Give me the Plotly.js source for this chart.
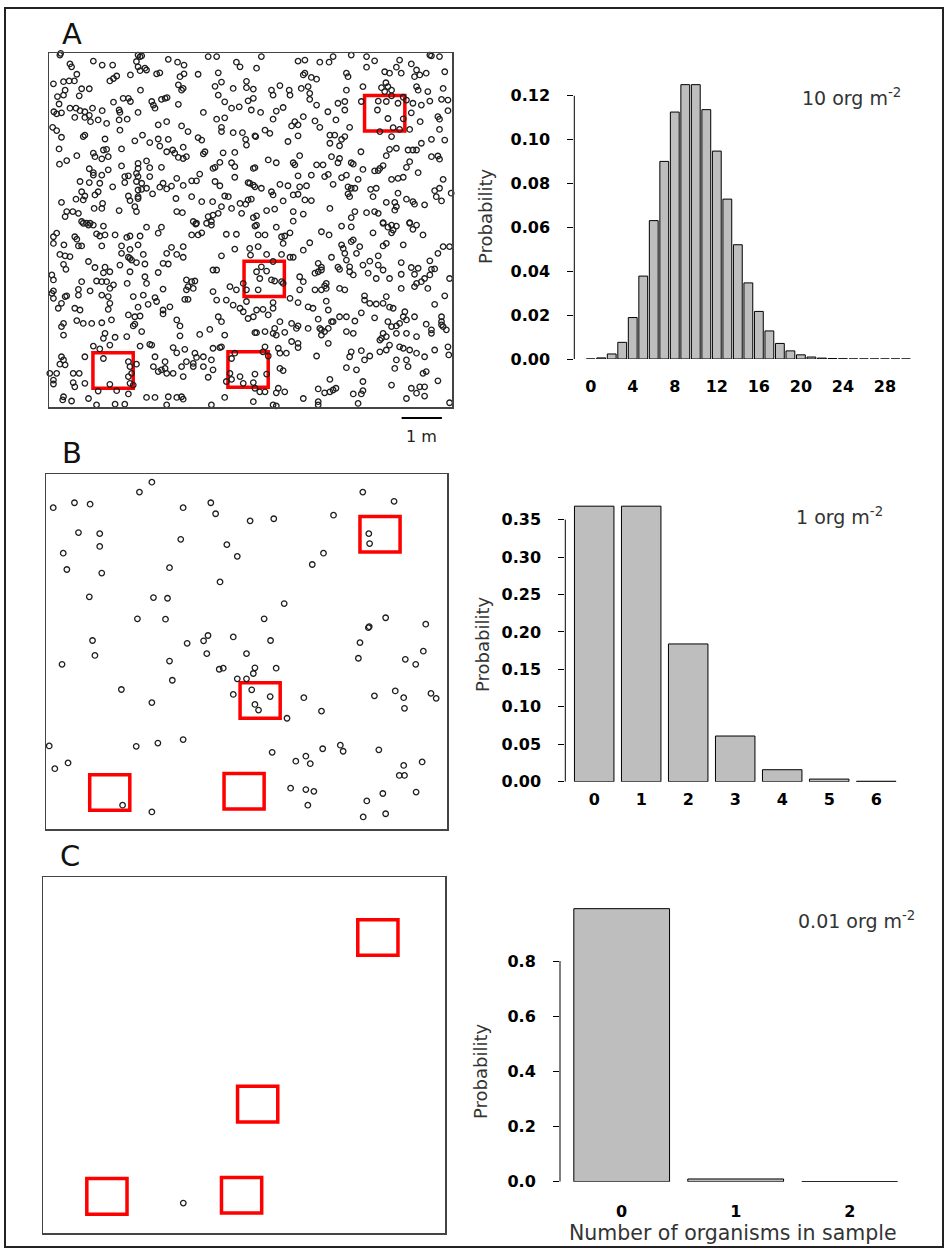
<!DOCTYPE html>
<html><head><meta charset="utf-8">
<script src="https://cdn.plot.ly/plotly-3.0.1.min.js"></script>
<style>html,body{margin:0;padding:0;background:#fff;}#chart{width:948px;height:1251px;}</style>
</head><body><div id="chart"></div>
<script>
// ---------------- DATA ----------------
// Organism positions (m) in the 10 m x 10 m field, panel A (10 org m^-2), by quadrant
const pointsA_NW = [[0.27,9.94],[0.29,9.99],[2.21,9.94],[2.26,9.90],[2.30,9.92],[3.95,9.90],[4.16,9.90],[0.52,9.69],[1.10,9.77],[1.32,9.66],[1.58,9.66],[2.96,9.82],[3.19,9.74],[3.35,9.66],[4.65,9.74],[4.74,9.61],[2.17,9.76],[2.21,9.61],[0.56,9.61],[0.69,9.40],[2.26,9.50],[2.42,9.52],[2.38,9.57],[2.67,9.41],[2.75,9.44],[3.35,9.41],[3.70,9.40],[4.20,9.44],[1.68,9.35],[2.02,9.38],[0.11,9.13],[0.36,9.19],[0.50,9.21],[0.63,9.21],[1.51,9.21],[1.60,9.28],[3.25,9.33],[3.21,9.10],[4.12,9.06],[4.28,9.18],[4.90,9.20],[0.81,8.99],[1.00,8.99],[2.27,8.95],[3.29,8.95],[3.33,9.00],[4.57,9.00],[4.90,9.02],[5.07,8.98],[0.40,8.95],[0.21,8.77],[0.36,8.81],[0.75,8.79],[1.84,8.72],[1.97,8.72],[2.02,8.63],[2.88,8.72],[2.93,8.74],[4.20,8.81],[4.36,8.62],[4.94,8.65],[5.07,8.72],[1.60,8.61],[2.55,8.63],[2.79,8.69],[0.25,8.56],[2.59,8.53],[2.63,8.44],[3.21,8.55],[4.53,8.44],[4.72,8.48],[5.02,8.39],[0.12,8.34],[0.19,8.28],[0.31,8.31],[0.52,8.44],[0.67,8.44],[0.77,8.37],[0.89,8.34],[1.00,8.24],[1.08,8.44],[1.32,8.37],[1.76,8.32],[1.74,8.39],[2.21,8.32],[0.64,8.18],[0.89,8.18],[1.03,8.06],[3.83,8.32],[1.43,8.01],[1.74,8.11],[1.94,8.13],[2.71,7.97],[2.92,8.06],[4.16,8.13],[4.36,8.17],[1.22,8.11],[0.09,7.90],[0.19,7.81],[1.76,7.82],[3.29,7.94],[3.45,7.78],[4.28,7.90],[4.28,7.78],[4.57,7.75],[4.80,7.75],[5.11,7.66],[0.31,7.62],[0.85,7.64],[0.89,7.68],[1.39,7.57],[2.13,7.52],[2.32,7.68],[2.50,7.47],[2.71,7.57],[2.96,7.56],[3.70,7.61],[3.79,7.54],[4.88,7.56],[4.90,7.40],[0.25,7.29],[1.10,7.17],[1.35,7.26],[1.43,7.28],[1.80,7.29],[2.75,7.37],[2.92,7.21],[3.07,7.26],[3.12,7.17],[3.33,7.34],[3.83,7.15],[3.87,7.21],[4.32,7.18],[4.61,7.19],[0.69,7.10],[1.14,7.07],[1.31,7.01],[1.47,7.07],[3.21,7.05],[3.41,7.07],[3.33,7.02],[4.53,6.90],[4.61,6.79],[0.26,6.86],[0.44,6.96],[1.80,6.81],[2.21,6.88],[2.42,6.95],[2.79,6.77],[2.21,6.74],[2.50,6.76],[4.07,6.74],[4.12,6.77],[4.24,6.91],[5.07,6.74],[1.00,6.73],[1.10,6.55],[1.31,6.55],[1.47,6.70],[1.10,6.62],[1.88,6.51],[1.97,6.53],[2.17,6.60],[2.21,6.51],[2.50,6.51],[3.17,6.46],[3.74,6.58],[4.61,6.49],[4.98,6.32],[5.07,6.27],[0.77,6.37],[1.00,6.34],[1.26,6.32],[1.58,6.22],[1.88,6.34],[2.17,6.37],[2.30,6.32],[2.83,6.32],[3.04,6.24],[3.33,6.26],[3.54,6.39],[3.66,6.39],[4.12,6.37],[4.24,6.25],[4.94,6.34],[0.81,6.08],[1.22,6.08],[0.89,5.96],[1.14,5.99],[2.21,6.13],[2.30,6.15],[2.42,6.18],[2.75,6.21],[2.92,6.16],[2.21,5.94],[1.97,5.96],[2.57,6.02],[4.36,5.96],[4.45,5.94],[5.02,5.87],[0.31,5.78],[0.67,5.87],[0.85,5.85],[1.33,5.75],[2.01,5.83],[2.21,5.89],[3.15,5.89],[3.54,5.94],[3.79,5.80],[4.06,5.80],[4.28,5.66],[4.53,5.61],[4.74,5.75],[4.88,5.73],[4.94,5.85],[0.44,5.52],[0.40,5.38],[0.59,5.52],[0.73,5.47],[1.12,5.61],[1.31,5.61],[1.74,5.55],[2.13,5.66],[2.17,5.52],[3.17,5.52],[3.31,5.49],[3.95,5.38],[4.07,5.42],[4.20,5.47],[4.78,5.47],[0.81,5.24],[0.93,5.19],[1.02,5.19],[3.58,5.24],[3.64,5.17],[3.91,5.19],[4.03,5.24],[5.07,5.35]];
const pointsA_NE = [[5.27,9.90],[6.18,9.77],[6.35,9.80],[6.72,9.74],[6.95,9.74],[7.05,9.90],[7.50,9.94],[7.88,9.90],[8.08,9.78],[8.70,9.80],[8.99,9.69],[9.45,9.94],[9.49,9.92],[9.69,9.90],[5.15,9.57],[7.38,9.43],[7.42,9.33],[7.88,9.60],[8.33,9.47],[8.45,9.43],[8.62,9.60],[8.74,9.43],[9.12,9.52],[9.20,9.38],[9.36,9.43],[9.07,9.33],[9.82,9.47],[6.31,9.38],[6.51,9.31],[6.64,9.26],[6.35,9.43],[8.36,9.16],[8.41,9.05],[7.79,9.05],[8.25,9.02],[8.33,8.91],[8.50,8.95],[9.12,9.05],[9.16,8.95],[9.40,8.91],[9.78,9.00],[5.52,8.95],[5.73,9.08],[5.96,8.95],[6.26,9.00],[6.43,9.05],[7.38,8.95],[5.56,8.81],[5.98,8.81],[6.47,8.86],[6.47,8.69],[8.50,8.79],[8.79,8.75],[8.87,8.67],[7.75,8.63],[8.17,8.64],[8.37,8.63],[8.66,8.58],[9.03,8.58],[9.24,8.53],[9.45,8.64],[9.74,8.69],[9.90,8.67],[7.17,8.58],[7.34,8.63],[6.64,8.53],[5.25,8.32],[5.64,8.36],[5.81,8.46],[7.34,8.39],[8.15,8.39],[8.99,8.31],[9.65,8.20],[9.90,8.37],[6.92,8.34],[5.56,8.13],[6.31,8.20],[6.10,8.06],[6.02,7.94],[6.18,7.97],[6.60,8.08],[6.72,7.90],[7.12,8.11],[7.46,7.90],[8.41,8.15],[8.79,8.14],[9.21,8.06],[9.69,8.13],[5.36,7.82],[5.48,7.73],[8.54,7.89],[8.70,7.84],[8.95,7.84],[8.21,7.78],[9.69,7.84],[5.13,7.64],[6.18,7.66],[6.97,7.68],[7.09,7.68],[7.34,7.64],[7.26,7.56],[5.93,7.50],[6.97,7.45],[7.21,7.38],[8.50,7.64],[9.49,7.56],[9.82,7.54],[9.24,7.45],[9.03,7.26],[8.91,7.26],[9.12,7.26],[7.74,7.21],[8.45,7.28],[8.62,7.31],[8.37,7.10],[6.22,7.10],[7.01,7.07],[7.21,7.02],[5.44,6.98],[5.64,6.90],[6.06,6.90],[6.10,6.84],[7.50,6.90],[7.55,6.86],[7.17,6.90],[9.49,7.07],[9.65,7.09],[9.69,7.00],[8.95,6.93],[8.87,6.77],[5.11,6.76],[6.64,6.84],[6.80,6.84],[7.79,6.71],[8.08,6.67],[8.17,6.68],[8.29,6.82],[8.21,6.74],[6.18,6.53],[6.51,6.55],[6.84,6.51],[6.93,6.57],[7.26,6.48],[7.38,6.55],[7.67,6.43],[8.50,6.43],[8.66,6.46],[8.79,6.49],[9.16,6.62],[9.78,6.43],[5.11,6.22],[5.27,6.18],[5.52,6.08],[5.73,6.29],[5.93,6.25],[6.22,6.22],[6.39,6.25],[7.05,6.29],[7.42,6.22],[7.50,6.18],[7.59,6.18],[7.98,6.15],[8.12,6.18],[9.57,6.11],[9.69,6.18],[5.56,5.99],[6.06,5.99],[6.18,6.01],[7.42,6.02],[7.46,5.94],[8.04,5.94],[8.37,5.78],[8.58,5.78],[8.66,6.04],[8.87,5.87],[9.03,5.80],[9.07,5.73],[9.32,5.71],[9.61,5.94],[9.74,5.82],[9.98,6.04],[5.81,5.82],[6.35,5.85],[6.51,5.83],[5.40,5.55],[5.60,5.59],[6.06,5.52],[6.31,5.45],[6.97,5.61],[7.59,5.52],[7.88,5.49],[8.08,5.52],[8.17,5.47],[8.62,5.66],[8.58,5.56],[5.15,5.40],[6.06,5.25],[7.50,5.35],[8.29,5.21],[8.50,5.14],[8.95,5.21],[9.12,5.14],[5.15,5.14]];
const pointsA_SW = [[0.85,5.19],[0.98,5.14],[1.10,5.14],[1.35,5.11],[2.42,5.08],[2.79,5.08],[3.66,5.19],[4.03,5.14],[0.11,4.81],[0.19,4.91],[0.64,4.81],[0.69,4.74],[1.18,4.89],[1.26,4.83],[1.39,4.86],[1.64,4.86],[1.93,4.79],[2.01,4.83],[2.26,4.83],[2.71,4.91],[3.54,4.86],[3.70,4.86],[3.79,4.92],[4.40,4.88],[4.65,4.88],[0.11,4.62],[0.37,4.58],[0.73,4.55],[0.81,4.55],[1.31,4.55],[1.80,4.55],[2.01,4.45],[2.21,4.58],[3.04,4.51],[3.33,4.53],[4.61,4.46],[4.98,4.48],[0.27,4.31],[0.40,4.27],[0.52,4.25],[1.80,4.34],[1.97,4.23],[2.01,4.20],[2.34,4.31],[2.92,4.34],[3.17,4.31],[3.33,4.23],[4.28,4.27],[5.00,4.29],[0.36,4.03],[0.98,4.11],[1.76,4.01],[2.05,4.15],[2.17,4.08],[2.38,4.04],[2.83,4.06],[2.96,4.04],[4.07,3.87],[4.16,3.87],[0.42,3.89],[1.14,3.94],[1.39,3.95],[1.35,3.79],[1.51,3.82],[2.01,3.82],[2.71,3.80],[0.07,3.73],[0.11,3.59],[0.81,3.54],[1.18,3.56],[1.31,3.54],[1.43,3.54],[1.60,3.45],[1.94,3.49],[2.38,3.68],[2.42,3.49],[3.41,3.59],[3.54,3.54],[3.62,3.56],[4.82,3.49],[0.11,3.28],[0.73,3.32],[1.02,3.28],[1.51,3.35],[2.83,3.33],[3.45,3.40],[3.41,3.31],[3.58,3.35],[4.49,3.40],[4.65,3.31],[4.90,3.31],[0.07,3.21],[0.11,3.07],[0.40,3.12],[0.44,3.14],[0.73,3.16],[1.31,3.16],[1.47,3.12],[2.09,3.12],[2.34,3.16],[2.63,3.09],[2.67,2.98],[3.37,3.04],[3.45,3.04],[4.07,3.26],[4.16,3.02],[4.40,3.02],[4.90,2.98],[0.31,2.93],[0.64,2.79],[0.77,2.74],[0.23,2.79],[1.51,2.93],[1.47,2.76],[2.21,2.82],[2.46,2.90],[2.83,2.74],[3.00,2.83],[4.57,2.88],[4.74,2.79],[4.82,2.69],[5.07,2.55],[4.94,2.50],[0.36,2.36],[0.31,2.27],[0.69,2.44],[0.85,2.36],[1.06,2.36],[1.31,2.38],[1.55,2.46],[1.97,2.60],[2.13,2.55],[2.26,2.57],[2.09,2.29],[2.13,2.34],[2.83,2.63],[3.17,2.46],[3.25,2.29],[4.28,2.41],[4.20,2.55],[0.36,2.03],[1.39,2.08],[1.35,1.94],[1.64,1.97],[1.93,1.99],[2.30,2.13],[3.25,2.01],[3.74,2.05],[3.99,2.19],[4.36,2.03],[5.11,2.10],[1.10,1.72],[1.26,1.64],[1.51,1.75],[2.26,1.72],[2.50,1.77],[2.55,1.75],[3.08,1.68],[3.37,1.63],[4.07,1.66],[4.24,1.68],[4.28,1.70],[0.31,1.42],[0.36,1.33],[0.89,1.42],[1.35,1.37],[1.97,1.28],[2.17,1.21],[2.63,1.42],[2.88,1.28],[3.17,1.53],[3.62,1.52],[3.66,1.40],[3.83,1.42],[3.58,1.23],[4.03,1.33],[4.61,1.52],[0.27,1.21],[0.40,1.19],[0.02,0.95],[0.19,0.95],[0.60,0.95],[0.75,0.95],[2.01,1.14],[2.05,0.95],[2.59,1.14],[2.71,1.00],[2.79,1.05],[2.92,0.95],[2.88,1.09],[3.08,0.95],[3.29,1.14],[3.41,1.28],[3.58,1.14],[3.83,1.14],[4.07,1.05],[4.49,0.95],[4.53,1.37],[0.11,0.76],[0.11,0.65],[0.60,0.69],[0.64,0.57],[0.89,0.67],[1.51,0.64],[1.97,0.86],[2.01,0.67],[2.09,0.62],[3.33,0.86],[3.95,0.84],[4.40,0.72],[4.53,0.78],[4.74,0.86],[4.82,0.67],[5.07,0.69],[0.36,0.29],[0.34,0.20],[0.56,0.17],[0.98,0.24],[1.22,0.45],[1.68,0.46],[1.97,0.37],[2.42,0.27],[2.63,0.27],[2.96,0.29],[2.92,0.06],[3.17,0.27],[3.29,0.29],[4.03,0.06],[4.36,0.27],[5.07,0.15],[3.33,0.22],[1.18,0.06],[1.64,0.08],[1.88,0.08]];
const pointsA_SE = [[5.64,5.08],[7.26,5.11],[7.50,5.09],[8.29,5.19],[8.41,5.08],[8.54,5.00],[8.62,5.11],[8.95,5.19],[9.03,5.02],[5.11,5.11],[5.19,4.86],[5.36,4.86],[5.77,4.81],[5.85,4.83],[5.98,4.92],[6.76,4.95],[6.95,4.86],[8.04,4.92],[8.50,4.92],[9.28,4.86],[8.37,4.62],[8.29,4.55],[8.79,4.58],[9.78,4.53],[9.94,4.53],[5.81,4.62],[5.19,4.53],[6.47,4.64],[6.31,4.43],[7.26,4.58],[7.30,4.48],[7.50,4.67],[7.55,4.72],[7.71,4.53],[7.34,4.34],[7.63,4.34],[8.17,4.27],[9.65,4.34],[5.77,4.31],[5.98,4.23],[6.06,4.23],[5.40,4.31],[5.56,4.11],[5.40,3.84],[5.27,3.96],[6.68,4.06],[6.76,3.95],[7.01,4.23],[7.17,3.95],[7.21,3.89],[7.38,4.15],[7.46,3.96],[7.79,4.01],[7.96,4.12],[8.17,4.01],[8.29,3.87],[8.74,4.08],[8.99,3.94],[9.16,3.92],[9.45,4.13],[9.49,3.89],[9.57,3.90],[5.15,3.82],[5.23,3.63],[5.52,3.59],[5.60,3.56],[5.77,3.54],[6.22,3.68],[6.31,3.54],[6.60,3.78],[6.68,3.82],[6.76,3.87],[7.46,3.82],[7.55,3.73],[7.92,3.78],[8.12,3.63],[8.45,3.63],[8.74,3.75],[9.07,3.75],[9.12,3.49],[9.24,3.54],[9.32,3.63],[9.45,3.73],[9.94,3.63],[6.88,3.49],[6.84,3.42],[6.22,3.31],[5.19,3.31],[5.81,3.49],[6.60,3.31],[6.76,3.31],[6.88,3.35],[7.21,3.35],[7.34,3.31],[8.74,3.35],[9.07,3.40],[9.40,3.35],[9.82,3.14],[5.98,3.07],[7.83,3.14],[7.83,3.02],[7.96,2.93],[8.12,2.91],[8.37,3.12],[8.29,2.93],[5.15,2.74],[5.31,2.76],[5.56,2.95],[5.56,2.79],[6.18,2.95],[6.43,2.83],[6.55,2.79],[6.88,2.99],[6.93,2.74],[7.75,2.66],[8.08,2.52],[8.45,2.82],[8.54,2.79],[8.83,2.69],[9.57,2.90],[5.44,2.60],[5.73,2.41],[6.02,2.36],[6.18,2.29],[6.68,2.48],[7.05,2.41],[7.21,2.55],[7.38,2.55],[7.59,2.43],[8.41,2.41],[8.50,2.27],[8.62,2.29],[8.70,2.36],[8.79,2.55],[8.87,2.46],[9.07,2.55],[9.36,2.34],[9.74,2.55],[9.74,2.41],[9.74,2.32],[9.78,2.27],[9.86,2.18],[9.49,2.18],[5.15,2.10],[5.36,2.13],[5.60,2.22],[5.56,2.08],[5.64,2.03],[5.85,2.11],[6.14,2.22],[6.43,2.22],[6.72,2.22],[6.76,2.18],[6.84,2.13],[6.93,2.22],[7.01,2.41],[6.76,2.03],[6.93,1.80],[7.38,2.13],[7.55,2.08],[8.29,2.08],[8.25,1.94],[8.37,1.99],[8.62,2.08],[8.87,2.08],[9.12,1.99],[9.49,2.08],[5.36,1.70],[5.31,1.56],[5.69,1.66],[5.73,1.52],[5.89,1.52],[6.02,1.85],[6.18,1.80],[6.18,1.68],[7.50,1.56],[7.75,1.59],[7.96,1.44],[8.21,1.56],[8.21,1.89],[8.45,1.75],[8.37,1.61],[8.70,1.70],[8.79,1.66],[8.95,1.61],[9.12,1.52],[9.32,1.42],[9.57,1.61],[9.90,1.70],[9.92,1.47],[5.44,1.44],[6.64,1.44],[7.46,1.42],[7.83,1.33],[8.62,1.33],[8.87,1.33],[8.91,1.14],[8.58,1.09],[9.28,0.95],[9.36,1.00],[7.38,1.11],[7.63,1.05],[5.73,1.09],[5.81,1.03],[5.11,0.93],[5.40,0.93],[6.97,0.78],[7.79,0.72],[9.65,0.74],[8.50,0.62],[5.11,0.53],[5.23,0.43],[5.36,0.43],[5.64,0.40],[5.69,0.53],[5.85,0.43],[6.68,0.51],[6.84,0.40],[6.97,0.43],[7.05,0.48],[7.12,0.53],[7.55,0.37],[7.75,0.37],[7.79,0.46],[8.87,0.24],[8.99,0.53],[9.12,0.39],[9.20,0.57],[9.32,0.57],[9.32,0.31],[5.56,0.06],[5.64,0.03],[6.31,0.24],[6.68,0.15],[6.68,0.06],[7.67,0.10],[9.94,0.12]];
// Panel B (1 org m^-2)
const pointsB = [[2.64,9.77],[2.33,9.49],[0.18,9.05],[0.71,9.19],[1.10,9.15],[3.42,9.05],[4.11,9.19],[4.23,8.88],[5.09,8.68],[5.68,8.74],[7.90,9.49],[8.68,9.23],[7.17,8.84],[0.81,8.35],[1.34,8.32],[1.34,7.96],[0.43,7.77],[3.36,8.16],[4.51,8.01],[4.77,7.68],[6.92,7.77],[6.64,7.45],[8.05,8.32],[8.07,8.04],[0.52,7.31],[1.39,7.21],[3.08,7.36],[4.34,6.96],[1.08,6.54],[2.68,6.52],[3.03,6.50],[5.94,6.35],[2.28,5.92],[2.98,5.91],[5.44,5.92],[8.47,5.95],[8.04,5.67],[8.06,5.70],[9.47,5.77],[1.16,5.31],[3.52,5.23],[3.93,5.30],[4.04,5.45],[4.67,5.41],[5.60,5.31],[7.83,5.25],[1.22,4.89],[4.01,4.94],[5.00,4.94],[9.41,5.01],[0.40,4.64],[3.08,4.73],[4.32,4.50],[4.42,4.53],[5.21,4.54],[5.74,4.53],[7.79,4.81],[8.96,4.78],[9.22,4.64],[5.17,4.38],[3.15,4.19],[4.77,4.23],[5.00,4.23],[1.88,3.93],[4.67,3.79],[5.13,3.92],[5.59,3.73],[5.21,3.51],[5.30,3.35],[6.01,3.12],[6.43,3.70],[6.87,3.32],[8.19,3.75],[8.71,3.89],[8.92,3.70],[8.94,3.40],[9.60,3.82],[9.73,3.68],[2.64,3.56],[0.08,2.34],[2.25,2.33],[2.79,2.42],[3.42,2.52],[5.64,2.16],[6.23,1.91],[6.48,2.05],[6.59,1.84],[6.90,2.26],[7.34,2.36],[7.41,2.19],[8.30,2.23],[8.92,1.79],[9.38,1.89],[0.22,1.70],[0.55,1.86],[8.81,1.51],[8.94,1.51],[6.10,1.15],[6.48,1.11],[6.68,1.06],[8.40,1.00],[9.23,1.04],[8.00,0.79],[6.53,0.67],[1.91,0.67],[2.64,0.48],[7.91,0.34],[8.47,0.43]];
// Panel C (0.01 org m^-2)
const pointsC = [[3.49,0.84]];
// Sampling quadrats (lower-left corner, m) and their side length (m)
const quadratX0 = [7.83, 4.84, 1.09, 4.44];
const quadratY0 = [7.80, 3.12, 0.53, 0.56];
const quadratSide = 1;
const scaleBarStart = 8.75, scaleBarLength = 1;   // m

// Poisson probabilities
const countsA = [0,1,2,3,4,5,6,7,8,9,10,11,12,13,14,15,16,17,18,19,20,21,22,23,24,25,26,27,28,29,30];
const probA  = [0.0000,0.0005,0.0023,0.0076,0.0189,0.0378,0.0631,0.0901,0.1126,0.1251,0.1251,0.1137,0.0948,0.0729,0.0521,0.0347,0.0217,0.0128,0.0071,0.0037,0.0019,0.0009,0.0004,0.0002,0.0001,0,0,0,0,0,0];
const countsB = [0,1,2,3,4,5,6];
const probB  = [0.368,0.368,0.184,0.061,0.016,0.0035,0.0006];
const countsC = [0,1,2];
const probC  = [0.990,0.0099,0.0000];

const xTicksA = [0,4,8,12,16,20,24,28];
const yTicksA = [0,0.02,0.04,0.06,0.08,0.10,0.12];
const yTicksB = [0,0.05,0.10,0.15,0.20,0.25,0.30,0.35];
const yTicksC = [0,0.2,0.4,0.6,0.8];
const densityLabels = ['10 org m<sup>-2</sup>','1 org m<sup>-2</sup>','0.01 org m<sup>-2</sup>'];
const panelLetters = ['A','B','C'];
const yTitle = 'Probability';
const xTitle = 'Number of organisms in sample';

// ---------------- LAYOUT ----------------
const W = 948, H = 1251;
const fx = p => p / W, fy = p => 1 - p / H;
const FONT = 'DejaVu Sans';
const tickFont = {family: FONT, size: 16, color: '#000', weight: 'bold'};

const allA = pointsA_NW.concat(pointsA_NE, pointsA_SW, pointsA_SE);
const field = (pts, xa, ya) => ({
  type: 'scatter', mode: 'markers', x: pts.map(p => p[0]), y: pts.map(p => p[1]),
  xaxis: xa, yaxis: ya, hoverinfo: 'skip', cliponaxis: false,
  marker: {symbol: 'circle-open', size: 5.5, color: '#1e1e1e', line: {width: 1.3}}
});
const bars = (x, y, xa, ya) => ({
  type: 'bar', x: x, y: y, xaxis: xa, yaxis: ya, hoverinfo: 'skip',
  marker: {color: '#bebebe', line: {color: '#000', width: 1}}
});

const data = [
  field(allA, 'x', 'y'),
  bars(countsA, probA, 'x2', 'y2'),
  field(pointsB, 'x3', 'y3'),
  bars(countsB, probB, 'x4', 'y4'),
  field(pointsC, 'x5', 'y5'),
  bars(countsC, probC, 'x6', 'y6')
];

const fieldAx = (d, anchor) => ({domain: d, range: [0, 10], anchor: anchor, showline: true, mirror: true,
  linecolor: '#444', linewidth: 1.5, showticklabels: false, ticks: '', showgrid: false, zeroline: false, fixedrange: true});
const histX = (d, r, tv, anchor, so) => ({domain: d, range: r, anchor: anchor, tickmode: 'array', tickvals: tv,
  ticktext: tv.map(String), ticks: '', showline: false, showgrid: false, zeroline: false, tickfont: tickFont,
  ticklabelstandoff: so});
const histY = (d, r, tv, dec, anchor) => ({domain: d, range: r, anchor: anchor, tickmode: 'array', tickvals: tv,
  ticktext: tv.map(v => v.toFixed(dec)), ticks: 'outside', ticklen: 6, tickwidth: 1, tickcolor: '#000',
  showline: false, showgrid: false, zeroline: false, tickfont: tickFont, ticklabelstandoff: 14});

const layout = {
  width: W, height: H, margin: {l: 0, r: 0, t: 0, b: 0}, showlegend: false,
  paper_bgcolor: '#fff', plot_bgcolor: 'rgba(0,0,0,0)', bargap: 0.16,
  font: {family: FONT, color: '#000'},
  xaxis:  fieldAx([fx(49), fx(452)], 'y'),
  yaxis:  fieldAx([fy(407), fy(53)], 'x'),
  xaxis2: histX([fx(574.3), fx(916.5)], [-1.56, 31], xTicksA, 'y2', 16),
  yaxis2: histY([fy(359), fy(73.9)], [0, 0.13], yTicksA, 2, 'x2'),
  xaxis3: fieldAx([fx(46), fx(447)], 'y3'),
  yaxis3: fieldAx([fy(829), fy(474)], 'x3'),
  xaxis4: histX([fx(565.3), fx(899.7)], [-0.615, 6.5], countsB, 'y4', 6),
  yaxis4: histY([fy(781.7), fy(497.2)], [0, 0.38], yTicksB, 2, 'x4'),
  xaxis5: fieldAx([fx(43), fx(445)], 'y5'),
  yaxis5: fieldAx([fy(1233), fy(877)], 'x5'),
  xaxis6: histX([fx(560), fx(906.7)], [-0.541, 2.5], countsC, 'y6', 18),
  yaxis6: histY([fy(1181.7), fy(905.9)], [0, 1.0], yTicksC, 1, 'x6'),
  shapes: [], annotations: []
};

// outer frame
layout.shapes.push({type: 'rect', xref: 'paper', yref: 'paper', x0: fx(5), x1: fx(943), y0: fy(1247), y1: fy(8),
  line: {color: '#222', width: 2}});
// y-axis lines spanning first to last tick (R style)
[['x2','y2',yTicksA],['x4','y4',yTicksB],['x6','y6',yTicksC]].forEach(([xa, ya, tv]) => {
  layout.shapes.push({type: 'line', xref: xa + ' domain', yref: ya, x0: 0, x1: 0, y0: tv[0], y1: tv[tv.length - 1],
    line: {color: '#000', width: 1}});
});
// red sampling quadrats in each field
[['x','y'],['x3','y3'],['x5','y5']].forEach(([xa, ya]) => {
  quadratX0.forEach((x0, i) => {
    layout.shapes.push({type: 'rect', xref: xa, yref: ya, layer: 'below', x0: x0, x1: x0 + quadratSide,
      y0: quadratY0[i], y1: quadratY0[i] + quadratSide, line: {color: '#ff0000', width: 3.5}});
  });
});
// scale bar
layout.shapes.push({type: 'line', xref: 'x', yref: 'paper', x0: scaleBarStart, x1: scaleBarStart + scaleBarLength,
  y0: fy(418), y1: fy(418), line: {color: '#000', width: 2}});

const ann = (text, x, y, size, color, extra) => Object.assign({text: text, x: x, y: y, xref: 'paper', yref: 'paper',
  showarrow: false, font: {family: FONT, size: size, color: color}, xanchor: 'center', yanchor: 'middle'}, extra || {});
layout.annotations.push(
  ann(panelLetters[0], fx(72), fy(34), 29, '#111'),
  ann(panelLetters[1], fx(72), fy(453), 29, '#111'),
  ann(panelLetters[2], fx(70), fy(856), 29, '#111'),
  ann(yTitle, fx(485), fy(217), 18, '#333', {textangle: -90}),
  ann(yTitle, fx(482), fy(645), 18, '#333', {textangle: -90}),
  ann(yTitle, fx(480), fy(1072), 18, '#333', {textangle: -90}),
  ann(densityLabels[0], fx(903), fy(97), 19, '#333', {xanchor: 'right'}),
  ann(densityLabels[1], fx(885), fy(516), 19, '#333', {xanchor: 'right'}),
  ann(densityLabels[2], fx(917), fy(920), 19, '#333', {xanchor: 'right'}),
  ann(xTitle, fx(733), fy(1233), 20.5, '#333'),
  {text: '1 m', x: scaleBarStart + scaleBarLength / 2, xref: 'x', y: fy(437), yref: 'paper', showarrow: false,
   font: {family: FONT, size: 16, color: '#222'}, xanchor: 'center', yanchor: 'middle'}
);

Plotly.newPlot('chart', data, layout, {staticPlot: true, displayModeBar: false});
</script></body></html>
